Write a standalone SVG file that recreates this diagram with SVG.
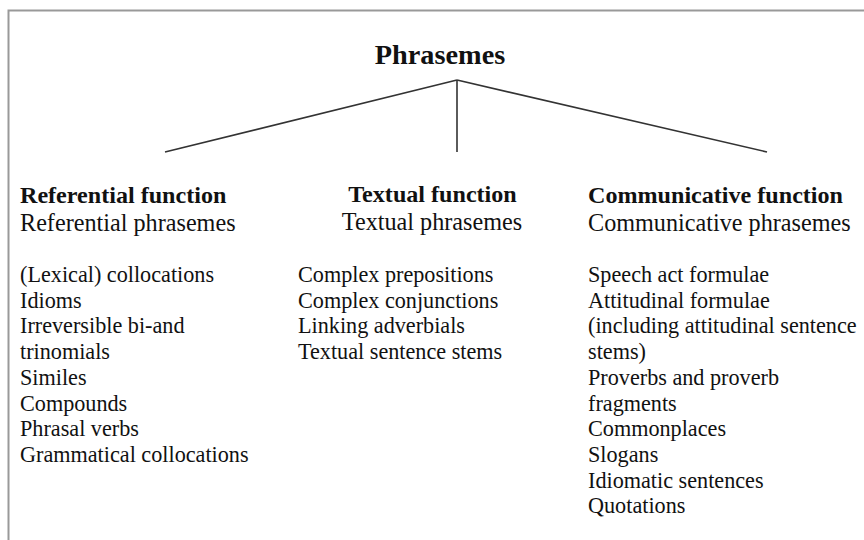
<svg xmlns="http://www.w3.org/2000/svg" width="864" height="540" viewBox="0 0 864 540">
<style>
text{font-family:"Liberation Serif","Times New Roman",serif;fill:#111;font-size:22.2px}
.b{font-weight:bold;font-size:24.1px}
.s{font-size:24.2px}
.t{font-size:28.3px;font-weight:bold}
.c{stroke:#333;stroke-width:1.6;fill:none}
.frame{stroke:#999;stroke-width:2;fill:none}
</style>
<rect width="864" height="540" fill="#fff"/>
<path class="frame" d="M8.5 541V10.5H864"/>
<g id="root"><text class="t" x="440" y="64" text-anchor="middle">Phrasemes</text></g>
<g id="connectors">
<line class="c" x1="457" y1="80" x2="165" y2="152"/>
<line class="c" x1="457" y1="80" x2="457" y2="152"/>
<line class="c" x1="457" y1="80" x2="767" y2="152"/>
</g>
<g id="referential">
<text class="b" x="20" y="203">Referential function</text>
<text class="s" x="20" y="231">Referential phrasemes</text>
<text x="20" y="282">(Lexical) collocations</text>
<text x="20" y="307.7">Idioms</text>
<text x="20" y="333.4">Irreversible bi-and</text>
<text x="20" y="359.1">trinomials</text>
<text x="20" y="384.8">Similes</text>
<text x="20" y="410.5">Compounds</text>
<text x="20" y="436.2">Phrasal verbs</text>
<text x="20" y="461.9">Grammatical collocations</text>
</g>
<g id="textual">
<text class="b" x="432.5" y="202" text-anchor="middle">Textual function</text>
<text class="s" x="432" y="230" text-anchor="middle">Textual phrasemes</text>
<text x="298" y="282">Complex prepositions</text>
<text x="298" y="307.7">Complex conjunctions</text>
<text x="298" y="333.4">Linking adverbials</text>
<text x="298" y="359.1">Textual sentence stems</text>
</g>
<g id="communicative">
<text class="b" x="588" y="203">Communicative function</text>
<text class="s" x="588" y="231">Communicative phrasemes</text>
<text x="588" y="282">Speech act formulae</text>
<text x="588" y="307.7">Attitudinal formulae</text>
<text x="588" y="333.4">(including attitudinal sentence</text>
<text x="588" y="359.1">stems)</text>
<text x="588" y="384.8">Proverbs and proverb</text>
<text x="588" y="410.5">fragments</text>
<text x="588" y="436.2">Commonplaces</text>
<text x="588" y="461.9">Slogans</text>
<text x="588" y="487.6">Idiomatic sentences</text>
<text x="588" y="513.3">Quotations</text>
</g>
</svg>
